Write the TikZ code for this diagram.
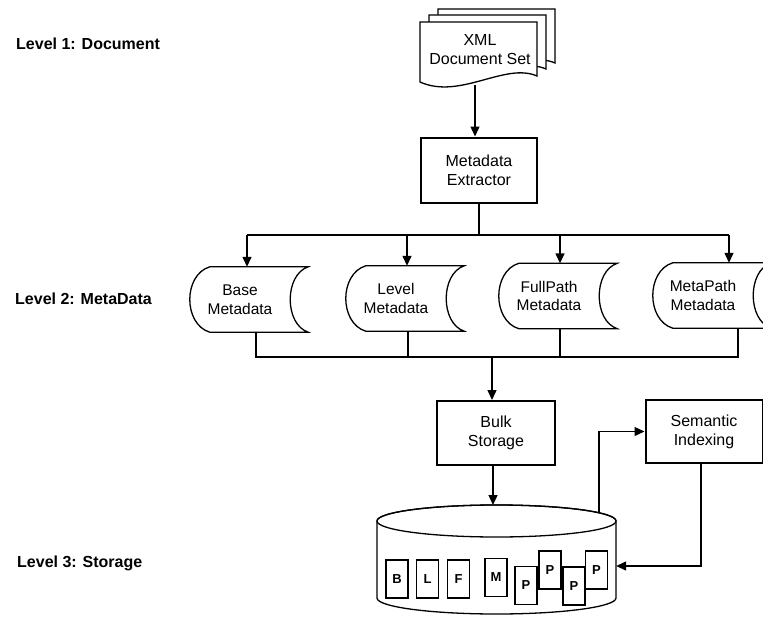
\documentclass[tikz,border=0pt]{standalone}
\usepackage{fontspec}
\setmainfont{Liberation Sans}
\usetikzlibrary{arrows.meta,calc}
\pgfdeclarelayer{bg}
\pgfsetlayers{bg,main}

\begin{document}
\begin{tikzpicture}[x=1pt,y=-1pt,
  box/.style={draw, line width=2pt, minimum width=116pt, minimum height=65pt,
    inner sep=0pt, align=center, font=\fontsize{16}{19}\selectfont},
  stored/.style={minimum width=100pt, minimum height=65pt, inner sep=0pt,
    align=center, font=\fontsize{15.5}{18.5}\selectfont},
  lvl/.style={anchor=west, inner sep=0pt, font=\bfseries\fontsize{16}{19}\selectfont},
  wire/.style={line width=1.4pt},
  arrow/.style={wire, -{Triangle[length=10pt,width=9pt]}},
  outline/.style={line width=1.3pt, fill=white},
  slot/.style={draw, line width=1.8pt, fill=white, minimum width=22pt,
    minimum height=38pt, inner sep=0pt, font=\bfseries\fontsize{13}{13}\selectfont}]

\useasboundingbox (0,0) rectangle (763,618);

% level captions
\node[lvl] (l1) at (16,44) {Level 1: Document};
\node[lvl] (l2) at (15,299) {Level 2: MetaData};
\node[lvl] (l3) at (17,563) {Level 3: Storage};

% document set
\node[align=center, inner sep=0pt, font=\fontsize{16}{19}\selectfont] (xml) at (480,50) {XML\\Document Set};
\coordinate (xmlfoot) at (475,85);

% process boxes
\node[box] (extract) at (479,170) {Metadata\\Extractor};
\node[box, minimum width=118pt, minimum height=64pt] (bulk) at (496,433) {Bulk\\Storage};
\node[box, minimum width=117pt, minimum height=63pt] (sem) at (704,431.5) {Semantic\\Indexing};

% stored metadata
\node[stored] (base) at (240,299.5) {Base\\Metadata};
\node[stored] (level) at (396,298.5) {Level\\Metadata};
\node[stored] (full) at (549,296) {FullPath\\Metadata};
\node[stored] (meta) at (703,295.5) {MetaPath\\Metadata};

% storage cylinder
\node[minimum width=239pt, minimum height=110pt, inner sep=0pt] (store) at (496.5,560) {};
\coordinate (cyltop) at (493,505);
\coordinate (tap) at (599,513);

% records inside the store
\node[slot] (sb) at (397,579) {B};
\node[slot] (sl) at (427.5,579) {L};
\node[slot] (sf) at (458.5,579) {F};
\node[slot] (sm) at (496,577.5) {M};
\node[slot] (p1) at (526,585.5) {P};
\node[slot] (p2) at (550,570) {P};
\node[slot] (p3) at (574,586) {P};
\node[slot] (p4) at (596.5,570) {P};

\begin{pgfonlayer}{bg}
  % stacked document sheets
  \foreach \dx/\dy in {18/-13, 9/-7, 0/0}{
    \draw[outline, shift={(\dx,\dy)}] (420,22) -- (537,22) -- (537,76)
      .. controls (505,62) and (460,100) .. (420,82) -- cycle;
  }
  % stored-data outlines
  \foreach \n in {base,level,full,meta}{
    \draw[outline] ([xshift=20pt]\n.north west) -- ([xshift=18pt]\n.north east)
      .. controls ([xshift=-6pt,yshift=-8pt]\n.north east) and ([xshift=-6pt,yshift=8pt]\n.south east)
      .. ([xshift=18pt]\n.south east) -- ([xshift=20pt]\n.south west)
      .. controls ([xshift=-6.7pt,yshift=8pt]\n.south west) and ([xshift=-6.7pt,yshift=-8pt]\n.north west)
      .. ([xshift=20pt]\n.north west) -- cycle;
  }
  % cylinder body and lid
  \draw[outline] (377,521) -- (377,598)
    arc[start angle=180, end angle=360, x radius=119.5pt, y radius=16pt]
    -- (616,521) arc[start angle=0, end angle=180, x radius=119.5pt, y radius=16pt] -- cycle;
  \draw[line width=1.3pt] (496.5,521) ellipse [x radius=119.5pt, y radius=16pt];
\end{pgfonlayer}

% connectors
\coordinate (split) at (479,235);
\coordinate (merge) at (492,357);
\draw[arrow] (xmlfoot) -- (extract.north -| xmlfoot);
\draw[wire] (extract.south) -- (split);
\draw[wire] ([xshift=7pt]base.north |- split) -- ([xshift=26pt]meta.north |- split);
\draw[arrow] ([xshift=7pt]base.north |- split) -- ([xshift=7pt]base.north);
\draw[arrow] ([xshift=11pt]level.north |- split) -- ([xshift=11pt]level.north);
\draw[arrow] ([xshift=11pt]full.north |- split) -- ([xshift=11pt]full.north);
\draw[arrow] ([xshift=26pt]meta.north |- split) -- ([xshift=26pt]meta.north);

\draw[wire] ([xshift=16pt]base.south) -- ([xshift=16pt]base.south |- merge)
  -- ([xshift=35pt]meta.south |- merge) -- ([xshift=35pt]meta.south);
\draw[wire] ([xshift=12pt]level.south) -- ([xshift=12pt]level.south |- merge);
\draw[wire] ([xshift=11pt]full.south) -- ([xshift=11pt]full.south |- merge);
\draw[arrow] (merge) -- (bulk.north -| merge);

\draw[arrow] (bulk.south -| cyltop) -- (cyltop);
\draw[arrow] (tap) |- (sem.west);
\draw[arrow] ([xshift=-3pt]sem.south) |- ([yshift=-6pt]store.east);

\end{tikzpicture}
\end{document}
